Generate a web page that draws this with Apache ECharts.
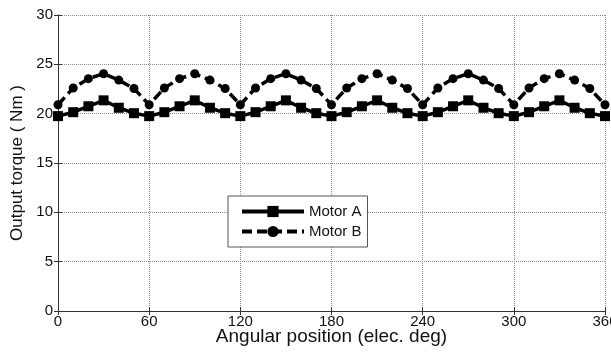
<!DOCTYPE html>
<html>
<head>
<meta charset="utf-8">
<script src="https://cdn.jsdelivr.net/npm/echarts@6/dist/echarts.min.js"></script>
<style>
  html, body { margin: 0; padding: 0; background: #fff; }
  #torqueChart { width: 611px; height: 352px; }
</style>
</head>
<body>
<div id="torqueChart"></div>
<script>
// angular positions, one point every 10 elec. deg
var angles = [0, 10, 20, 30, 40, 50, 60, 70, 80, 90, 100, 110, 120, 130, 140, 150, 160, 170, 180,
    190, 200, 210, 220, 230, 240, 250, 260, 270, 280, 290, 300, 310, 320, 330, 340, 350, 360];
// (Nm)
var motorA = [19.75, 20.15, 20.75, 21.35, 20.6, 20.05,
    19.75, 20.15, 20.75, 21.35, 20.6, 20.05,
    19.75, 20.15, 20.75, 21.35, 20.6, 20.05,
    19.75, 20.15, 20.75, 21.35, 20.6, 20.05,
    19.75, 20.15, 20.75, 21.35, 20.6, 20.05,
    19.75, 20.15, 20.75, 21.35, 20.6, 20.05,
    19.75];
var motorB = [20.9, 22.6, 23.55, 24.05, 23.4, 22.55,
    20.9, 22.6, 23.55, 24.05, 23.4, 22.55,
    20.9, 22.6, 23.55, 24.05, 23.4, 22.55,
    20.9, 22.6, 23.55, 24.05, 23.4, 22.55,
    20.9, 22.6, 23.55, 24.05, 23.4, 22.55,
    20.9, 22.6, 23.55, 24.05, 23.4, 22.55,
    20.9];
var xTicks = [0, 60, 120, 180, 240, 300, 360];
var yTicks = [0, 5, 10, 15, 20, 25, 30];

var torqueChart = echarts.init(document.getElementById('torqueChart'));

function pairs(xs, ys) {
    return xs.map(function (x, i) { return [x, ys[i]]; });
}

var frameLine = { show: true, lineStyle: { color: '#333', width: 1 } };
var gridLine = { show: true, lineStyle: { color: '#8a8a8a', type: 'dotted', width: 1 } };
var font = 'Liberation Sans, Arial, sans-serif';

var option = {
    animation: false,
    backgroundColor: '#fff',
    grid: { left: 58, right: 6, top: 15, bottom: 41, outerBoundsMode: 'none', containLabel: false },
    legend: {
        orient: 'vertical',
        left: 228,
        top: 196,
        padding: [8, 6, 8, 12],
        itemGap: 5,
        itemWidth: 62,
        itemHeight: 14,
        borderColor: '#555',
        borderWidth: 1,
        backgroundColor: '#fff',
        lineStyle: { width: 4 },
        textStyle: { fontFamily: font, fontSize: 15, color: '#111' },
        data: ['Motor A', 'Motor B']
    },
    xAxis: [{
        type: 'value',
        min: 0,
        max: 360,
        interval: 60,
        name: 'Angular position (elec. deg)',
        nameLocation: 'middle',
        nameGap: 16,
        nameMoveOverlap: false,
        nameTextStyle: { fontFamily: font, fontSize: 19, color: '#111' },
        axisLine: frameLine,
        axisTick: { show: true, inside: true, length: 4, lineStyle: { color: '#333' } },
        axisLabel: {
            fontFamily: font, fontSize: 15, color: '#111', margin: 3,
            formatter: function (v) { return xTicks.indexOf(v) >= 0 ? String(v) : ''; }
        },
        splitLine: gridLine
    }, {
        type: 'value',
        position: 'top',
        min: 0,
        max: 360,
        interval: 60,
        axisLine: frameLine,
        axisTick: { show: true, inside: true, length: 4, lineStyle: { color: '#333' } },
        axisLabel: { show: false },
        splitLine: { show: false }
    }],
    yAxis: [{
        type: 'value',
        min: 0,
        max: 30,
        interval: 5,
        name: 'Output torque ( Nm )',
        nameLocation: 'middle',
        nameGap: 31,
        nameTextStyle: { fontFamily: font, fontSize: 17, color: '#111' },
        axisLine: frameLine,
        axisTick: { show: true, inside: true, length: 4, lineStyle: { color: '#333' } },
        axisLabel: {
            fontFamily: font, fontSize: 15, color: '#111', margin: 5,
            formatter: function (v) { return yTicks.indexOf(v) >= 0 ? String(v) : ''; }
        },
        splitLine: gridLine
    }, {
        type: 'value',
        position: 'right',
        min: 0,
        max: 30,
        interval: 5,
        axisLine: frameLine,
        axisTick: { show: true, inside: true, length: 4, lineStyle: { color: '#333' } },
        axisLabel: { show: false },
        splitLine: { show: false }
    }],
    series: [{
        name: 'Motor A',
        type: 'line',
        xAxisIndex: 0,
        yAxisIndex: 0,
        data: pairs(angles, motorA),
        symbol: 'rect',
        symbolSize: 10,
        showAllSymbol: true,
        itemStyle: { color: '#000' },
        lineStyle: { color: '#000', width: 3.5 }
    }, {
        name: 'Motor B',
        type: 'line',
        xAxisIndex: 0,
        yAxisIndex: 0,
        data: pairs(angles, motorB),
        symbol: 'circle',
        symbolSize: 9,
        showAllSymbol: true,
        itemStyle: { color: '#000' },
        lineStyle: { color: '#000', width: 3.5, type: [10, 5] }
    }]
};

torqueChart.setOption(option);
</script>
</body>
</html>
